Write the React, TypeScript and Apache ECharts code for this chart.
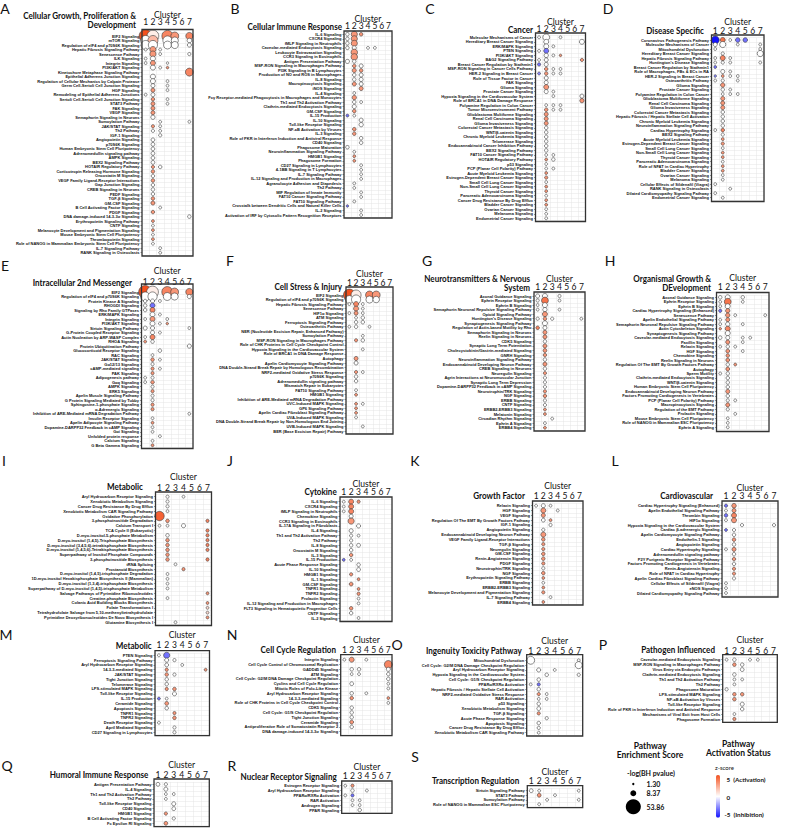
import React, { useEffect, useRef } from "react";
import * as echarts from "echarts";

const clusters = ["1", "2", "3", "4", "5", "6", "7"];

// ---------- A ----------
const aRows = ["EIF2 Signaling","mTOR Signaling","Regulation of eIF4 and p70S6K Signaling","Hepatic Fibrosis Signaling Pathway","Senescence Pathway","ILK Signaling","Integrin Signaling","PI3K/AKT Signaling","Kinetochore Metaphase Signaling Pathway","Epithelial Adherens Junction Signaling","Regulation of Cellular Mechanics by Calpain Protease","Germ Cell-Sertoli Cell Junction Signaling","HGF Signaling","Remodeling of Epithelial Adherens Junctions","Sertoli Cell-Sertoli Cell Junction Signaling","STAT3 Pathway","FAK Signaling","VEGF Signaling","Semaphorin Signaling in Neurons","Sumoylation Pathway","JAK/STAT Signaling","Th2 Pathway","IGF-1 Signaling","Angiopoietin Signaling","p70S6K Signaling","Human Embryonic Stem Cell Pluripotency","Adrenomedullin signaling pathway","AMPK Signaling","BEX2 Signaling Pathway","HOTAIR Regulatory Pathway","Corticotropin Releasing Hormone Signaling","Oncostatin M Signaling","VEGF Family Ligand-Receptor Interactions","Gap Junction Signaling","CREB Signaling in Neurons","PEDF Signaling","TGF-β Signaling","GM-CSF Signaling","B Cell Activating Factor Signaling","PDGF Signaling","DNA damage-induced 14-3-3σ Signaling","Erythropoietin Signaling Pathway","CNTF Signaling","Melanocyte Development and Pigmentation Signaling","Mouse Embryonic Stem Cell Pluripotency","Thrombopoietin Signaling","Role of NANOG in Mammalian Embryonic Stem Cell Pluripotency","IL-7 Signaling Pathway","RANK Signaling in Osteoclasts"];
const aPts = [[1,1,40,5],[2,1,33,0.5],[4,1,30,3.5],[5,1,15,3],[7,1,12,3.5],[1,2,24,0],[2,2,24,2],[4,2,20,0],[5,2,12,0],[7,2,5,0],[1,3,20,0],[2,3,20,0],[4,3,15,0],[5,3,12,0],[7,3,4,0],[1,4,2,0],[2,4,9,3],[3,4,2,0],[2,5,9,3],[3,5,2,0],[7,5,2.5,0],[1,6,2,0],[2,6,6,0],[1,7,2,0],[2,7,6,3],[4,7,1.5,0],[2,8,6,0],[3,8,2,0],[4,8,1.6,3],[7,9,15,3.5],[2,10,6,0],[2,11,6,0],[4,11,2,0],[2,12,4,0],[4,12,2,0],[2,13,4,3],[4,13,2,0],[1,14,2,0],[2,14,4,0],[2,15,3,3],[4,15,2,0],[2,16,4,3],[4,16,2,0],[2,17,4,3],[2,18,4,3],[2,19,4.5,0],[3,20,2,0],[7,20,2,0],[2,21,2.5,3],[3,21,2,0],[2,22,2.5,0],[3,22,2,0],[3,23,2.5,0],[2,24,3.5,0],[2,25,3.5,0],[2,26,3.5,0],[2,27,3.5,0],[2,28,3.5,0],[2,29,3.5,0],[2,30,2.5,3],[3,30,3,0],[2,31,3,3],[2,32,3,0],[2,33,3,3],[2,34,3,0],[2,35,3,0],[2,36,3,0],[2,37,3,3],[2,38,4,3],[3,39,2,0],[2,40,3,3],[7,41,3,0],[2,42,2,3],[2,43,2,0],[2,44,2,3],[2,45,2,0],[2,46,2,3],[2,47,2,0],[3,48,2,0],[3,49,2,0]];

// ---------- B ----------
const bRows = ["IL-6 Signaling","CXCR4 Signaling","fMLP Signaling in Neutrophils","Caveolar-mediated Endocytosis Signaling","Leukocyte Extravasation Signaling","CCR3 Signaling in Eosinophils","Antigen Presentation Pathway","MSP-RON Signaling in Macrophages Pathway","PI3K Signaling in B Lymphocytes","Production of NO and ROS in Macrophages","IL-8 Signaling","Macropinocytosis Signaling","iNOS Signaling","IL-4 Signaling","Fcγ Receptor-mediated Phagocytosis in Macrophages and Monocytes","Th1 and Th2 Activation Pathway","Clathrin-mediated Endocytosis Signaling","GM-CSF Signaling","IL-15 Production","IL-10 Signaling","Toll-like Receptor Signaling","NF-κB Activation by Viruses","IL-3 Signaling","Role of PKR in Interferon Induction and Antiviral Response","CD40 Signaling","Phagosome Maturation","Neuroinflammation Signaling Pathway","HMGB1 Signaling","Phagosome Formation","CD27 Signaling in Lymphocytes","4-1BB Signaling in T Lymphocytes","IL-7 Signaling Pathway","IL-12 Signaling and Production in Macrophages","Agranulocyte Adhesion and Diapedesis","Th2 Pathway","MIF Regulation of Innate Immunity","FAT10 Cancer Signaling Pathway","FAT10 Signaling Pathway","Crosstalk between Dendritic Cells and Natural Killer Cells","IL-2 Signaling","Activation of IRF by Cytosolic Pattern Recognition Receptors"];
const bPts = [[1,1,3,0],[2,1,9,3],[3,1,3,3],[1,2,3,0],[2,2,9,3],[1,3,3,0],[2,3,9,3],[1,4,3,0],[2,4,4,0],[4,4,2,0],[5,4,2,0],[2,5,10,3],[2,6,10,3],[1,7,4,0],[2,7,3,0],[2,8,3,3],[3,8,4,0],[2,9,4,3],[3,9,3,3],[2,10,3,0],[3,10,4,0],[2,11,3,0],[3,11,4,0],[2,12,4,3],[3,12,4,0],[3,13,4,3],[2,14,2,0],[2,15,4.5,3],[2,16,3,0],[3,16,2,0],[2,17,4,0],[2,18,3,3],[1,19,2,-3],[2,19,2,0],[3,20,4,0],[3,21,4.5,0],[2,22,3,3],[2,23,3,3],[3,24,3,0],[3,25,3,0],[1,26,3,0],[2,27,2,0],[2,28,2,3],[2,29,2,3],[3,30,2,0],[3,31,2,0],[3,32,2,0],[3,33,2,0],[2,34,2,0],[2,35,2,0],[3,36,2,0],[3,37,2,0],[2,38,2,0],[1,39,1.5,-3],[3,40,2,0],[3,41,2,0]];

// ---------- C ----------
const cRows = ["Molecular Mechanisms of Cancer","Hereditary Breast Cancer Signaling","ERK/MAPK Signaling","PTEN Signaling","PI3K/AKT Signaling","BAG2 Signaling Pathway","Breast Cancer Regulation by Stathmin1","MSP-RON Signaling in Cancer Cells Pathway","HER-2 Signaling in Breast Cancer","Role of Tissue Factor in Cancer","FAK Signaling","Glioma Signaling","Prostate Cancer Signaling","Hypoxia Signaling in the Cardiovascular System","Role of BRCA1 in DNA Damage Response","Polyamine Regulation in Colon Cancer","Tumor Microenvironment Pathway","Glioblastoma Multiforme Signaling","Renal Cell Carcinoma Signaling","Glioma Invasiveness Signaling","Colorectal Cancer Metastasis Signaling","WNT/β-catenin Signaling","Chronic Myeloid Leukemia Signaling","Telomerase Signaling","Endocannabinoid Cancer Inhibition Pathway","BEX2 Signaling Pathway","FAT10 Cancer Signaling Pathway","HOTAIR Regulatory Pathway","p53 Signaling","PCP (Planar Cell Polarity) Pathway","Acute Myeloid Leukemia Signaling","Estrogen-Dependent Breast Cancer Signaling","Small Cell Lung Cancer Signaling","Non-Small Cell Lung Cancer Signaling","Thyroid Cancer Signaling","Pancreatic Adenocarcinoma Signaling","Cancer Drug Resistance By Drug Efflux","Bladder Cancer Signaling","Ovarian Cancer Signaling","Melanoma Signaling","Endometrial Cancer Signaling"];
const cPts = [[1,1,2,0],[2,1,11,0],[4,1,2,0],[2,2,6,0],[7,2,6,0],[2,3,6,0],[3,3,2,0],[1,4,2,0],[2,4,6,-3],[2,5,4.5,0],[3,5,2,0],[4,5,1.5,3],[1,6,2,0],[2,6,4,0],[7,6,2.5,3],[1,7,2.5,-3],[2,7,4,0],[2,8,3,3],[3,8,2,0],[4,8,2,0],[1,9,2,-2.5],[2,9,3,3],[3,9,2,0],[4,9,2,0],[2,10,4,0],[2,11,4,0],[2,12,6,3],[2,13,4,0],[3,13,2,0],[3,14,2,0],[7,14,4,0],[7,15,4.5,3],[2,16,2,0],[3,16,2,0],[4,16,2,0],[2,17,3,3],[3,17,2,0],[4,17,2,0],[2,18,4,3],[2,19,4,3],[2,20,4,3],[2,21,3,0],[2,22,3,0],[2,23,3,0],[2,24,3,0],[2,25,3,0],[2,26,3,0],[2,27,2,0],[3,27,2,0],[2,28,2,3],[3,28,3,0],[2,29,2,0],[2,30,2,0],[3,30,2,0],[2,31,2,3],[2,32,2.5,3],[2,33,2,0],[2,34,2,3],[2,35,2,3],[2,36,2,0],[2,37,2,3],[2,38,2,3],[2,39,2,0],[2,40,2,0],[2,41,2,0]];

// ---------- D ----------
const dRows = ["Coronavirus Pathogenesis Pathway","Molecular Mechanisms of Cancer","Mitochondrial Dysfunction","Hereditary Breast Cancer Signaling","Hepatic Fibrosis Signaling Pathway","Huntington's Disease Signaling","Breast Cancer Regulation by Stathmin1","Role of Macrophages, FBs & ECs in RA","HER-2 Signaling in Breast Cancer","Osteoarthritis Pathway","Glioma Signaling","Prostate Cancer Signaling","Polyamine Regulation in Colon Cancer","Glioblastoma Multiforme Signaling","Renal Cell Carcinoma Signaling","Glioma Invasiveness Signaling","Colorectal Cancer Metastasis Signaling","Hepatic Fibrosis / Hepatic Stellate Cell Activation","Chronic Myeloid Leukemia Signaling","Neuroinflammation Signaling Pathway","Cardiac Hypertrophy Signaling","BEX2 Signaling Pathway","Acute Myeloid Leukemia Signaling","Estrogen-Dependent Breast Cancer Signaling","Small Cell Lung Cancer Signaling","Non-Small Cell Lung Cancer Signaling","Thyroid Cancer Signaling","Pancreatic Adenocarcinoma Signaling","Role of NFAT in Cardiac Hypertrophy","Bladder Cancer Signaling","Ovarian Cancer Signaling","Melanoma Signaling","Cellular Effects of Sildenafil (Viagra)","RANK Signaling in Osteoclasts","Dilated Cardiomyopathy Signaling Pathway","Endometrial Cancer Signaling"];
const dPts = [[1,1,15,-5],[2,1,6,4],[3,1,2,0],[4,1,5,-3],[5,1,5,-3],[1,2,4,0],[2,2,9,0],[4,2,2,0],[7,2,2,0],[1,3,2,0],[7,3,2,0],[2,4,2.5,0],[7,4,9,0],[1,5,2,0],[2,5,6,3.5],[3,5,2,0],[1,6,2,0],[2,6,2.5,0],[3,6,2,0],[7,6,2,0],[1,7,2,-3],[2,8,4,0],[3,8,2,0],[1,9,1.5,-2.5],[2,9,2,3],[3,9,2,0],[4,9,2,0],[1,10,2,0],[2,10,2.5,0],[4,10,2,0],[2,11,4.5,3],[2,12,3,0],[3,12,2,0],[2,13,2,0],[3,13,2,0],[4,13,2,0],[2,14,4,3],[2,15,4,3],[2,16,4,3],[2,17,3,0],[2,18,3,0],[2,19,3,0],[2,20,3,0],[1,21,2,0],[2,21,3,3.5],[2,22,2.5,0],[2,23,2,3],[2,24,2.5,3],[2,25,2,0],[2,26,2,3],[2,27,2,3],[2,28,2,0],[2,29,2,3],[2,30,2,3],[2,31,2,0],[2,32,2,0],[1,33,2,0],[3,34,2,0],[1,35,2,0],[2,36,2,0]];

// ---------- E ----------
const eRows = ["EIF2 Signaling","Regulation of eIF4 and p70S6K Signaling","Protein Kinase A Signaling","RHOGDI Signaling","Signaling by Rho Family GTPases","ERK/MAPK Signaling","Integrin Signaling","PI3K/AKT Signaling","Sirtuin Signaling Pathway","G-Protein Coupled Receptor Signaling","Actin Nucleation by ARP-WASP Complex","RHOA Signaling","Protein Ubiquitination Pathway","Glucocorticoid Receptor Signaling","RAC Signaling","JAK/STAT Signaling","Gα12/13 Signaling","cAMP-mediated signaling","PAK Signaling","Adipogenesis pathway","Gαq Signaling","AMPK Signaling","ERK5 Signaling","Apelin Muscle Signaling Pathway","G Protein Signaling Mediated by Tubby","Sphingosine-1-phosphate Signaling","α-Adrenergic Signaling","Inhibition of ARE-Mediated mRNA Degradation Pathway","Insulin Receptor Signaling","Apelin Adipocyte Signaling Pathway","Dopamine-DARPP32 Feedback in cAMP Signaling","Gαi Signaling","Unfolded protein response","Calcium Signaling","G Beta Gamma Signaling"];
const ePts = [[1,1,40,5],[2,1,33,0.5],[4,1,28,3.5],[5,1,15,3],[7,1,12,3.5],[1,2,20,0],[2,2,20,0],[4,2,15,0],[5,2,12,0],[7,2,4,0],[1,3,3,0],[2,3,4,0],[3,3,2,0],[1,4,3,0],[2,4,6,-3],[1,5,3,0],[2,5,6,3.5],[2,6,6,0],[3,6,2,0],[1,7,2,0],[2,7,6,3],[4,7,2,0],[2,8,6,0],[3,8,2,0],[4,8,1.5,3],[1,9,4,0],[2,9,4,0],[7,9,2,0],[2,10,4,0],[3,10,2,0],[1,11,2,0],[2,11,6,3.5],[1,12,2,3],[2,12,3,0],[7,13,4,0],[3,14,3,0],[2,15,2,0],[2,16,3,3],[3,16,2,0],[2,17,2.5,0],[2,18,2.5,3],[3,18,2,0],[2,19,2.5,3],[1,20,2,0],[2,20,2.5,0],[1,21,2,0],[2,21,3,3],[2,22,2.5,0],[2,23,2.5,3],[2,24,2.5,0],[2,25,2.5,0],[2,26,2.5,3],[2,27,2.5,3],[7,28,2,0],[2,29,2,0],[2,30,2,3],[2,31,2,0],[2,32,2,0],[3,33,2,0],[2,34,2,0],[2,35,2,3]];

// ---------- F ----------
const fRows = ["EIF2 Signaling","Regulation of eIF4 and p70S6K Signaling","Hepatic Fibrosis Signaling Pathway","Senescence Pathway","HIF1α Signaling","ATM Signaling","Ferroptosis Signaling Pathway","Osteoarthritis Pathway","NER (Nucleotide Excision Repair, Enhanced Pathway)","Sumoylation Pathway","MSP-RON Signaling in Macrophages Pathway","Role of CHK Proteins in Cell Cycle Checkpoint Control","Hypoxia Signaling in the Cardiovascular System","Role of BRCA1 in DNA Damage Response","Autophagy","Apelin Cardiomyocyte Signaling Pathway","DNA Double-Strand Break Repair by Homologous Recombination","NRF2-mediated Oxidative Stress Response","p70S6K Signaling","Adrenomedullin signaling pathway","Mismatch Repair in Eukaryotes","FAT10 Signaling Pathway","HMGB1 Signaling","Inhibition of ARE-Mediated mRNA Degradation Pathway","UVC-Induced MAPK Signaling","GP6 Signaling Pathway","Apelin Cardiac Fibroblast Signaling Pathway","UVA-Induced MAPK Signaling","DNA Double-Strand Break Repair by Non-Homologous End Joining","UVB-Induced MAPK Signaling","BER (Base Excision Repair) Pathway"];
const fPts = [[1,1,33,5],[2,1,24,0.5],[4,1,15,3.5],[5,1,15,3],[1,2,15,0],[2,2,20,0],[4,2,12,0],[5,2,10,0],[1,3,2,0],[2,3,6,3.5],[3,3,2,0],[2,4,6,3],[3,4,2,0],[1,5,2,0],[2,5,4,3],[3,5,2,0],[2,6,2,0],[3,6,3,0],[2,7,3,0],[3,7,3,0],[1,8,2,0],[2,8,3,0],[4,8,2,0],[3,10,2,0],[2,11,2.5,3],[3,11,3,0],[3,13,2,0],[2,15,4,3],[2,16,4,0],[2,18,2.5,3],[3,18,2,0],[2,19,3,0],[2,20,3,0],[2,22,2,0],[2,23,2,3],[2,25,2,3],[3,25,2,0],[2,26,2,3],[2,27,2,3],[2,28,2,0],[3,30,2,0]];

// ---------- G ----------
const gRows = ["Axonal Guidance Signaling","Ephrin Receptor Signaling","Ephrin B Signaling","Semaphorin Neuronal Repulsive Signaling Pathway","Opioid Signaling Pathway","Huntington's Disease Signaling","Synaptogenesis Signaling Pathway","Regulation of Actin-based Motility by Rho","Semaphorin Signaling in Neurons","Reelin Signaling in Neurons","CDK5 Signaling","Synaptic Long Term Potentiation","Cholecystokinin/Gastrin-mediated Signaling","GNRH Signaling","Neuroinflammation Signaling Pathway","Endocannabinoid Developing Neuron Pathway","CREB Signaling in Neurons","Neuregulin Signaling","Agrin Interactions at Neuromuscular Junction","Synaptic Long Term Depression","Dopamine-DARPP32 Feedback in cAMP Signaling","Neurotrophin/TRK Signaling","NGF Signaling","ERBB Signaling","CNTF Signaling","ERBB2-ERBB3 Signaling","Melatonin Signaling","Circadian Rhythm Signaling","Ephrin A Signaling","ERBB4 Signaling"];
const gPts = [[1,1,4,0],[2,1,6,0],[4,1,2.5,0],[1,2,2.5,0],[2,2,11,4],[4,2,2,0],[1,3,2,0],[2,3,6,0],[1,4,2,0],[2,4,4.5,0],[4,4,2,0],[2,5,6,3],[1,6,2.5,0],[2,6,3,3],[3,6,2.5,0],[7,6,2,0],[2,7,6,0],[1,8,3,3.5],[2,8,4,0],[2,9,4,3],[2,10,4,3],[2,11,3,0],[2,12,4,3],[2,13,3.5,3],[2,14,3,3],[2,15,3,0],[2,16,4,3],[2,17,3,0],[2,18,2.5,3],[2,19,2.5,0],[2,20,2.5,0],[2,21,2.5,0],[2,22,2.5,3],[2,23,3,3],[2,24,2.5,0],[2,25,2.5,0],[2,26,2,3],[2,27,2,3],[3,28,2,0],[2,29,2,0],[2,30,2,3]];

// ---------- H ----------
const hRows = ["Axonal Guidance Signaling","Ephrin Receptor Signaling","Ephrin B Signaling","Cardiac Hypertrophy Signaling (Enhanced)","Senescence Pathway","Apelin Endothelial Signaling Pathway","Semaphorin Neuronal Repulsive Signaling Pathway","Actin Cytoskeleton Signaling","Synaptogenesis Signaling Pathway","Caveolar-mediated Endocytosis Signaling","Paxillin Signaling","Relaxin Signaling","HGF Signaling","Chemokine Signaling","Reelin Signaling in Neurons","Regulation Of The EMT By Growth Factors Pathway","Autophagy","Sperm Motility","Clathrin-mediated Endocytosis Signaling","WNT/β-catenin Signaling","Human Embryonic Stem Cell Pluripotency","Endocannabinoid Developing Neuron Pathway","Factors Promoting Cardiogenesis in Vertebrates","PCP (Planar Cell Polarity) Pathway","Macropinocytosis Signaling","Regulation of the EMT Pathway","Prolactin Signaling","Mouse Embryonic Stem Cell Pluripotency","Role of NANOG in Mammalian ESC Pluripotency","Ephrin A Signaling"];
const hPts = [[1,1,3,0],[2,1,6,0],[4,1,3,0],[1,2,2,0],[2,2,11,4],[4,2,2,0],[1,3,2,0],[2,3,6,0],[1,4,2.5,-3],[2,4,4.5,3],[2,5,4.5,3],[3,5,2,0],[7,5,2,0],[1,6,2,0],[2,6,4,3],[1,7,2,0],[2,7,4.5,0],[4,7,2,0],[1,8,1.5,3],[2,8,6,3.5],[2,9,6,0],[1,10,3,0],[2,10,4,0],[4,10,2,0],[5,10,2,0],[2,11,4,3],[4,11,2,0],[1,12,2,0],[2,12,3,0],[3,12,2,0],[2,13,3.5,3],[4,13,2,0],[2,14,3,3],[2,15,3.5,3],[2,16,3,0],[3,16,2,3],[2,17,3.5,3],[1,18,2,0],[2,18,3,0],[2,19,3,0],[2,20,3,0],[2,21,3,0],[2,22,4,3],[2,23,3,0],[2,24,2.5,0],[3,24,2,0],[2,25,4,3],[2,26,2.5,0],[3,27,2,0],[2,28,2,0],[2,29,2,0],[2,30,2,0]];

// ---------- I ----------
const iRows = ["Aryl Hydrocarbon Receptor Signaling","Xenobiotic Metabolism Signaling","Cancer Drug Resistance By Drug Efflux","Xenobiotic Metabolism CAR Signaling Pathway","Oxidative Phosphorylation","3-phosphoinositide Degradation","Calcium Transport I","TCA Cycle II (Eukaryotic)","D-myo-inositol-5-phosphate Metabolism","D-myo-inositol (1,4,5)-Trisphosphate Biosynthesis","D-myo-inositol (3,4,5,6)-tetrakisphosphate Biosynthesis","D-myo-inositol (1,4,5,6)-Tetrakisphosphate Biosynthesis","Superpathway of Inositol Phosphate Compounds","3-phosphoinositide Biosynthesis","tRNA Splicing","Prostanoid Biosynthesis","D-myo-inositol (1,4,5)-trisphosphate Degradation","1D-myo-inositol Hexakisphosphate Biosynthesis II (Mammalian)","D-myo-inositol (1,3,4)-trisphosphate Biosynthesis","Superpathway of D-myo-inositol (1,4,5)-trisphosphate Metabolism","Salvage Pathways of Pyrimidine Ribonucleotides","Creatine-phosphate Biosynthesis","Colanic Acid Building Blocks Biosynthesis","Folate Transformations I","Tetrahydrofolate Salvage from 5,10-methenyltetrahydrofolate","Pyrimidine Deoxyribonucleotides De Novo Biosynthesis I","Glutamine Biosynthesis I"];
const iPts = [[2,1,2.5,0],[4,1,2,0],[2,2,2.5,0],[2,3,2.5,0],[2,4,2,0],[1,5,21,4.5],[2,6,3,3],[7,6,2.5,3.5],[1,7,2,0],[2,7,2,0],[4,7,4,0],[7,8,2.5,3.5],[2,9,3,0],[7,9,2.5,3.5],[2,10,3,3],[7,10,2.5,3.5],[2,11,3,3],[7,11,2.5,3.5],[2,12,3,3],[7,12,2.5,3.5],[2,13,3,3],[2,14,3,3],[7,14,2.5,3.5],[3,15,2,0],[4,16,2.5,3],[2,17,2,0],[2,18,2,0],[2,19,2,0],[2,20,2,0],[7,21,2,3],[2,22,2,0],[7,23,2,3],[7,24,2,1],[7,25,2,1],[7,26,2,3],[3,27,2,0]];

// ---------- J ----------
const jRows = ["IL-6 Signaling","CXCR4 Signaling","fMLP Signaling in Neutrophils","Chemokine Signaling","CCR3 Signaling in Eosinophils","IL-17A Signaling in Fibroblasts","IL-4 Signaling","Th1 and Th2 Activation Pathway","Th2 Pathway","IL-8 Signaling","Oncostatin M Signaling","IL-3 Signaling","IL-15 Production","Acute Phase Response Signaling","IL-10 Signaling","HMGB1 Signaling","IL-1 Signaling","GM-CSF Signaling","TNFR1 Signaling","TNFR2 Signaling","Prolactin Signaling","IL-12 Signaling and Production in Macrophages","FLT3 Signaling in Hematopoietic Progenitor Cells","CNTF Signaling","IL-2 Signaling"];
const jPts = [[1,1,2,0],[2,1,6,3.5],[3,1,2.5,3],[1,2,2,0],[2,2,6,3.5],[1,3,2,0],[2,3,6,3.5],[2,4,4,0],[2,5,9,3],[3,6,4,0],[2,7,4,0],[2,8,2.5,0],[3,8,2,0],[2,9,2.5,0],[2,10,3,0],[3,10,3.5,0],[2,11,3,0],[2,12,3,3],[1,13,2,-3],[2,13,2,0],[3,14,3,0],[3,15,3.5,0],[2,16,2.5,3],[3,17,2,3],[2,18,3.5,3],[3,19,2,3],[3,20,2.5,3],[3,21,2,0],[3,22,2,0],[2,23,3,3],[2,24,3,0],[3,25,2,0]];

// ---------- K ----------
const kRows = ["Relaxin Signaling","HGF Signaling","VEGF Signaling","Regulation Of The EMT By Growth Factors Pathway","IGF-1 Signaling","Angiopoietin Signaling","Endocannabinoid Developing Neuron Pathway","VEGF Family Ligand-Receptor Interactions","TGF-β Signaling","Neuregulin Signaling","GM-CSF Signaling","Renin-Angiotensin Signaling","PDGF Signaling","Neurotrophin/TRK Signaling","NGF Signaling","Erythropoietin Signaling Pathway","ERBB Signaling","ERBB2-ERBB3 Signaling","Melanocyte Development and Pigmentation Signaling","IL-7 Signaling Pathway","ERBB4 Signaling"];
const kPts = [[1,1,2,0],[2,1,4,0],[3,1,2,0],[2,2,6,3],[4,2,2,0],[2,3,4,3],[2,4,3.5,0],[3,4,2,3],[3,5,2.5,0],[2,6,2.5,0],[2,7,6,3],[2,8,3,3],[2,9,2.5,3],[2,10,2.5,3],[2,11,3,3],[2,12,3,3],[2,13,2.5,3],[2,14,2.5,0],[2,15,3,3],[2,16,2,3],[2,17,2,0],[2,18,2,3],[2,19,2.5,3],[3,20,2,0],[2,21,2,3]];

// ---------- L ----------
const lRows = ["Cardiac Hypertrophy Signaling (Enhanced)","Apelin Endothelial Signaling Pathway","Thrombin Signaling","HIF1α Signaling","Hypoxia Signaling in the Cardiovascular System","Cardiac β-adrenergic Signaling","Apelin Cardiomyocyte Signaling Pathway","Endothelin-1 Signaling","Angiopoietin Signaling","Cardiac Hypertrophy Signaling","Adrenomedullin signaling pathway","P2Y Purigenic Receptor Signaling Pathway","Factors Promoting Cardiogenesis in Vertebrates","Renin-Angiotensin Signaling","Role of NFAT in Cardiac Hypertrophy","Apelin Cardiac Fibroblast Signaling Pathway","Cellular Effects of Sildenafil (Viagra)","eNOS Signaling","Dilated Cardiomyopathy Signaling Pathway"];
const lPts = [[1,1,2.5,-3],[2,1,5,3],[1,2,2,0],[2,2,4,3],[1,3,3,-3],[2,3,6,3.5],[1,4,2,0],[2,4,6,3],[3,5,2.5,0],[7,5,2.5,0],[1,6,2,-3],[2,6,2.5,0],[2,7,3,0],[2,8,3,3],[2,9,3,0],[1,10,2,0],[2,10,4,3],[2,11,3,0],[2,12,3,3],[2,13,3,0],[2,14,2.5,3],[2,15,2.5,3],[2,16,2.5,0],[1,17,2,0],[1,18,2,0],[1,19,2,0]];

// ---------- M ----------
const mRows = ["PTEN Signaling","Ferroptosis Signaling Pathway","Aryl Hydrocarbon Receptor Signaling","14-3-3-mediated Signaling","JAK/STAT Signaling","Tight Junction Signaling","Telomerase Signaling","LPS-stimulated MAPK Signaling","Toll-like Receptor Signaling","IL-15 Production","Ceramide Signaling","Apoptosis Signaling","TNFR1 Signaling","TNFR2 Signaling","Death Receptor Signaling","April Mediated Signaling","CD27 Signaling in Lymphocytes"];
const mPts = [[1,1,2,0],[2,1,9,-3],[2,2,4,0],[3,2,2.5,0],[2,3,3.5,0],[4,3,2,0],[2,4,2.5,3],[7,4,2,3],[2,5,3,3],[3,5,2.5,0],[2,6,3,0],[2,7,3,0],[2,8,2.5,3],[3,8,3,3],[3,9,4,0],[1,10,2,-3],[2,10,2,0],[2,11,3.5,3],[2,12,3,0],[3,13,2.5,3],[3,14,3,3],[1,15,2,0],[3,16,2.5,0],[3,17,2.5,0]];

// ---------- N ----------
const nRows = ["Integrin Signaling","Cell Cycle Control of Chromosomal Replication","GADD45 Signaling","ATM Signaling","Cell Cycle: G2/M DNA Damage Checkpoint Regulation","Cyclins and Cell Cycle Regulation","Mitotic Roles of Polo-Like Kinase","Aryl Hydrocarbon Receptor Signaling","14-3-3-mediated Signaling","Role of CHK Proteins in Cell Cycle Checkpoint Control","CDK5 Signaling","Cell Cycle: G1/S Checkpoint Regulation","Tight Junction Signaling","Ceramide Signaling","Antiproliferative Role of Somatostatin Receptor 2","DNA damage-induced 14-3-3σ Signaling"];
const nPts = [[1,1,2,0],[2,1,6,3],[4,1,2,0],[7,2,15,3.5],[2,3,3,0],[3,3,3,0],[7,3,4,0],[2,4,2,0],[3,4,2,0],[7,4,3,0],[7,5,3,0],[2,6,3.5,0],[7,6,2,0],[7,7,2,0],[2,8,3,0],[4,8,2,0],[2,9,3,3],[7,9,2,3],[7,10,2,0],[2,11,3,0],[2,12,3,0],[2,13,3,0],[2,14,3.5,3],[2,15,3,0]];

// ---------- O ----------
const oRows = ["Mitochondrial Dysfunction","Cell Cycle: G2/M DNA Damage Checkpoint Regulation","Aryl Hydrocarbon Receptor Signaling","Hypoxia Signaling in the Cardiovascular System","Cell Cycle: G1/S Checkpoint Regulation","PPARα/RXRα Activation","Hepatic Fibrosis / Hepatic Stellate Cell Activation","NRF2-mediated Oxidative Stress Response","RAR Activation","p53 Signaling","Xenobiotic Metabolism Signaling","TGF-β Signaling","Acute Phase Response Signaling","Apoptosis Signaling","Cancer Drug Resistance By Drug Efflux","Xenobiotic Metabolism CAR Signaling Pathway"];
const oPts = [[1,1,15,0],[7,1,2,0],[7,2,12,0],[2,3,4,0],[4,3,2,0],[3,4,3,0],[7,4,2.5,0],[2,5,3,0],[1,6,2,0],[2,6,2.5,-3],[2,7,3,0],[2,8,2.5,3],[3,8,2,0],[2,9,2,0],[3,9,2,0],[2,10,3,0],[2,11,3.5,0],[2,12,2.5,3],[3,13,2.5,0],[2,14,3,0],[2,15,2.5,0],[2,16,2,0]];

// ---------- P ----------
const pRows = ["Caveolar-mediated Endocytosis Signaling","MSP-RON Signaling in Macrophages Pathway","Virus Entry via Endocytic Pathways","Clathrin-mediated Endocytosis Signaling","Th1 and Th2 Activation Pathway","Th2 Pathway","Phagosome Maturation","LPS-stimulated MAPK Signaling","NF-κB Activation by Viruses","Toll-like Receptor Signaling","Role of PKR in Interferon Induction and Antiviral Response","Mechanisms of Viral Exit from Host Cells","Phagosome Formation"];
const pPts = [[1,1,2,0],[2,1,3,0],[4,1,2,0],[5,1,2,0],[2,2,3,3],[3,2,3,0],[3,3,3.5,0],[2,4,3,0],[2,5,2,0],[3,5,2,0],[2,6,2,0],[1,7,2.5,0],[2,8,3,3],[3,8,3,3],[2,9,3,3],[3,10,4,0],[3,11,3,0],[2,12,2,0],[2,13,2.5,3]];

// ---------- Q ----------
const qRows = ["Antigen Presentation Pathway","IL-4 Signaling","Th1 and Th2 Activation Pathway","Th2 Pathway","Toll-like Receptor Signaling","CD40 Signaling","HMGB1 Signaling","B Cell Activating Factor Signaling","Fc Epsilon RI Signaling"];
const qPts = [[1,1,3.5,0],[2,1,2.5,0],[2,2,4,0],[2,3,2,0],[3,3,2,0],[2,4,2,0],[3,5,4,0],[3,6,3.5,0],[2,7,2.5,3],[3,8,2.5,0],[2,9,3.5,3]];

// ---------- R ----------
const rRows = ["Estrogen Receptor Signaling","Aryl Hydrocarbon Receptor Signaling","PPARα/RXRα Activation","RAR Activation","Androgen Signaling","PPAR Signaling"];
const rPts = [[1,1,2,0],[2,1,2.5,3],[2,2,3,0],[4,2,2,0],[1,3,2,0],[2,3,2.5,-3],[2,4,2,0],[3,4,2,0],[2,5,2,0],[3,5,2,0],[3,6,3,0]];

// ---------- S ----------
const sRows = ["Sirtuin Signaling Pathway","STAT3 Pathway","Sumoylation Pathway","Role of NANOG in Mammalian ESC Pluripotency"];
const sPts = [[1,1,3.5,0],[2,1,2,0],[7,1,2,0],[2,2,3.5,3],[4,2,2,0],[3,3,2,0],[7,3,2,0],[2,4,2,0]];

// legend values (-log BH p)
const legendSizes = [1.3, 8.37, 53.86];
const legendLabels = ["1.30", "8.37", "53.86"];

// ---------- layout (positions only) ----------
const panels: any[] = [
  { k: "A", rows: aRows, pts: aPts, title: ["Cellular Growth, Proliferation &", "Development"], box: [142, 29.5, 193, 256], f: 36, l: 252.7, let: [5, 8], tr: 136, ty: [15, 24.3], cy: 14, ny: 22 },
  { k: "B", rows: bRows, pts: bPts, title: ["Cellular Immune Response"], box: [344, 31, 392, 218], f: 34.3, l: 215, let: [235, 8], tr: 342, ty: [26], cy: 18, ny: 26 },
  { k: "C", rows: cRows, pts: cPts, title: ["Cancer"], box: [535.5, 33, 585.5, 221.5], f: 37.3, l: 218.3, let: [430, 8], tr: 533, ty: [29], cy: 21, ny: 29 },
  { k: "D", rows: dRows, pts: dPts, title: ["Disease Specific"], box: [711.5, 35, 764, 201.5], f: 40, l: 197.7, let: [608, 8], tr: 704, ty: [30.7], cy: 21.7, ny: 30.7 },
  { k: "E", rows: eRows, pts: ePts, title: ["Intracellular 2nd Messenger"], box: [141.5, 284, 193, 448.5], f: 292, l: 445.3, let: [5, 265], tr: 132, ty: [282], cy: 270, ny: 282 },
  { k: "F", rows: fRows, pts: fPts, title: ["Cell Stress & Injury"], box: [346, 287, 393, 434], f: 295, l: 431, let: [230, 260], tr: 342, ty: [286], cy: 273, ny: 283 },
  { k: "G", rows: gRows, pts: gPts, title: ["Neurotransmitters & Nervous", "System"], box: [534, 292, 585, 431], f: 296, l: 427.7, let: [427, 260], tr: 530, ty: [278, 287], cy: 278, ny: 287.3 },
  { k: "H", rows: hRows, pts: hPts, title: ["Organismal Growth &", "DEvelopment"], box: [716.5, 292.5, 769, 431.5], f: 297.3, l: 427.3, let: [610, 260], tr: 711, ty: [278, 287], cy: 277.7, ny: 287.3 },
  { k: "I", rows: iRows, pts: iPts, title: ["Metabolic"], box: [155.5, 492, 211.5, 625.5], f: 496.7, l: 622.3, let: [4, 460], tr: 143, ty: [486.7], cy: 476.7, ny: 487.7 },
  { k: "J", rows: jRows, pts: jPts, title: ["Cytokine"], box: [340, 497, 392, 621.5], f: 501.7, l: 618, let: [230, 460], tr: 336.7, ty: [491.7], cy: 483, ny: 492.3 },
  { k: "K", rows: kRows, pts: kPts, title: ["Growth Factor"], box: [532.5, 501, 583, 605], f: 505.7, l: 602, let: [415, 460], tr: 525, ty: [495], cy: 485, ny: 495.7 },
  { k: "L", rows: lRows, pts: lPts, title: ["Cardiovascular"], box: [722, 501, 778, 597], f: 505.7, l: 593, let: [615, 460], tr: 713, ty: [495], cy: 487, ny: 495.7 },
  { k: "M", rows: mRows, pts: mPts, title: ["Metabolic"], box: [155, 650.7, 209.5, 735.7], f: 655.3, l: 732.3, let: [6, 634.7], tr: 151.7, ty: [645.3], cy: 634.7, ny: 644.7 },
  { k: "N", rows: nRows, pts: nPts, title: ["Cell Cycle Regulation"], box: [340.7, 654.7, 392, 735.7], f: 659.7, l: 731.7, let: [232, 634.7], tr: 336, ty: [649.7], cy: 639.7, ny: 649.7 },
  { k: "O", rows: oRows, pts: oPts, title: ["Ingenuity Toxicity Pathway"], box: [526.7, 654.7, 582.7, 736], f: 660.3, l: 732.7, let: [397, 644.7], tr: 521.7, ty: [650.7], cy: 640.7, ny: 650.7 },
  { k: "P", rows: pRows, pts: pPts, title: ["Pathogen Influenced"], box: [722.7, 654.7, 777.3, 722.3], f: 659.7, l: 719, let: [603, 644.7], tr: 715, ty: [649.7], cy: 639.7, ny: 650.7 },
  { k: "Q", rows: qRows, pts: qPts, title: ["Humoral Immune Response"], box: [154, 779, 209.3, 826.7], f: 784.3, l: 823.3, let: [7, 765], tr: 148.3, ty: [774.3], cy: 764.3, ny: 775 },
  { k: "R", rows: rRows, pts: rPts, title: ["Nuclear Receptor Signaling"], box: [341.7, 781, 392, 813.3], f: 785.7, l: 810, let: [232, 765], tr: 336.7, ty: [776], cy: 766.7, ny: 776 },
  { k: "S", rows: sRows, pts: sPts, title: ["Transcription Regulation"], box: [527.3, 785.7, 582.7, 807.7], f: 790.7, l: 804.3, let: [415, 756.7], tr: 519.3, ty: [780.7], cy: 771, ny: 780.7 },
];

const sizeOf = (v: number) => 2.05 * Math.sqrt(v);
const TITLE_FONT = "Lato, 'Noto Sans', sans-serif";
const LABEL_FONT = "'Liberation Sans', Arial, sans-serif";

function txt(x: number, y: number, text: string, o: any = {}) {
  const align = o.align || "left";
  const va = o.va || "middle";
  return {
    type: "text",
    x,
    y,
    scaleX: o.scaleX || 1,
    z: 120,
    style: {
      text,
      fill: o.fill || "#111",
      fontSize: o.size || 9,
      fontFamily: o.family || TITLE_FONT,
      fontWeight: o.weight || "normal",
      align,
      verticalAlign: va,
      textAlign: align,
      textVerticalAlign: va,
    },
  };
}

function buildOption() {
  const grid: any[] = [];
  const xAxis: any[] = [];
  const yAxis: any[] = [];
  const series: any[] = [];
  const graphic: any[] = [];

  panels.forEach((p, i) => {
    const n = p.rows.length;
    const band = (p.l - p.f) / (n - 1);
    const top = p.f - band / 2;
    const [x0, y0, x1, y1] = p.box;
    const g0 = 2 * i;
    const g1 = 2 * i + 1;
    // label grid: rows exactly on the category bands
    grid.push({ left: x0, top, width: x1 - x0, height: n * band, containLabel: false, outerBoundsMode: "none", show: false });
    // plotting grid: the framed box, used to clip the bubbles
    grid.push({ left: x0, top: y0, width: x1 - x0, height: y1 - y0, containLabel: false, outerBoundsMode: "none", show: false });
    xAxis.push({
      gridIndex: g0,
      type: "category",
      data: clusters,
      position: "top",
      boundaryGap: true,
      axisLine: { show: false },
      axisTick: { show: false },
      axisLabel: { interval: 0, margin: top - p.ny, verticalAlign: "middle", fontSize: 8.5, fontFamily: TITLE_FONT, color: "#111" },
      splitLine: { show: true, interval: 0, lineStyle: { color: "#e4e4e4", width: 0.5 } },
    });
    xAxis.push({ gridIndex: g1, type: "value", min: -0.5, max: 6.5, show: false, splitLine: { show: false } });
    yAxis.push({
      gridIndex: g0,
      type: "category",
      data: p.rows,
      inverse: true,
      boundaryGap: true,
      axisLine: { show: false },
      axisTick: { show: true, alignWithLabel: true, interval: 0, length: 1.5, lineStyle: { color: "#333", width: 0.5 } },
      axisLabel: { interval: 0, margin: 2.5, fontSize: 4, fontWeight: "bold", fontFamily: LABEL_FONT, color: "#111" },
      splitLine: { show: true, interval: 0, lineStyle: { color: "#e4e4e4", width: 0.5 } },
    });
    yAxis.push({ gridIndex: g1, type: "value", inverse: true, min: (y0 - p.f) / band, max: (y1 - p.f) / band, show: false, splitLine: { show: false } });
    series.push({
      type: "scatter",
      name: p.k,
      xAxisIndex: g1,
      yAxisIndex: g1,
      clip: true,
      silent: true,
      data: p.pts.map((d: number[]) => [d[0] - 1, d[1] - 1, d[2], d[3]]),
      symbolSize: (v: number[]) => sizeOf(v[2]),
      itemStyle: { borderColor: "#3a3a3a", borderWidth: 0.6, opacity: 1 },
      z: 3,
    });
    graphic.push({
      type: "rect",
      z: 110,
      shape: { x: x0, y: y0, width: x1 - x0, height: y1 - y0 },
      style: { fill: "none", stroke: "#333", lineWidth: 1.3 },
    });
    graphic.push(txt(p.let[0], p.let[1], p.k, { size: 14, align: "center" }));
    p.title.forEach((t: string, j: number) => {
      graphic.push(txt(p.tr, p.ty[j], t, { size: 9.5, weight: "bold", align: "right", scaleX: 0.85 }));
    });
    graphic.push(txt((x0 + x1) / 2, p.cy, "Cluster", { size: 9.5, align: "center", scaleX: 0.9 }));
  });

  // legend: enrichment score
  graphic.push(txt(650, 745.7, "Pathway", { size: 8.5, weight: "bold", align: "center" }));
  graphic.push(txt(650, 754.5, "Enrichment Score", { size: 8.5, weight: "bold", align: "center" }));
  graphic.push(txt(651, 772.7, "-log(BH pvalue)", { size: 7, weight: "bold", align: "center" }));
  const ly = [784, 793.3, 806.7];
  legendSizes.forEach((v, j) => {
    graphic.push({ type: "circle", z: 120, shape: { cx: 633.3, cy: ly[j], r: sizeOf(v) / 2 }, style: { fill: "#000" } });
    graphic.push(txt(646.5, ly[j], legendLabels[j], { size: 7, weight: "bold" }));
  });
  // legend: activation status
  graphic.push(txt(738.3, 744, "Pathway", { size: 8.5, weight: "bold", align: "center" }));
  graphic.push(txt(738.3, 752.8, "Activation Status", { size: 8.5, weight: "bold", align: "center" }));
  graphic.push(txt(715, 767.7, "z-score", { size: 6 }));
  graphic.push(txt(726.5, 779.5, "5  (Activation)", { size: 6.3, weight: "bold" }));
  graphic.push(txt(726.5, 797.5, "0", { size: 6.3, weight: "bold" }));
  graphic.push(txt(724.5, 814.3, "-5  (Inhibition)", { size: 6.3, weight: "bold" }));

  return {
    animation: false,
    backgroundColor: "#fff",
    textStyle: { fontFamily: LABEL_FONT },
    grid,
    xAxis,
    yAxis,
    series,
    graphic: { elements: graphic },
    visualMap: {
      type: "continuous",
      min: -5,
      max: 5,
      dimension: 3,
      seriesIndex: panels.map((_, i) => i),
      calculable: false,
      show: true,
      orient: "vertical",
      left: 716,
      top: 775,
      itemWidth: 4,
      itemHeight: 42.7,
      padding: 0,
      text: null,
      inRange: { color: ["#1414ff", "#ffffff", "#f4511e"] },
    },
  };
}

export default function App() {
  const ref = useRef<HTMLDivElement>(null);
  useEffect(() => {
    const chart = echarts.init(ref.current as HTMLDivElement, null, { renderer: "svg" });
    chart.setOption(buildOption() as any);
    return () => chart.dispose();
  }, []);
  return <div ref={ref} style={{ position: "absolute", left: 0, top: 0, width: 785, height: 830, background: "#fff" }} />;
}
